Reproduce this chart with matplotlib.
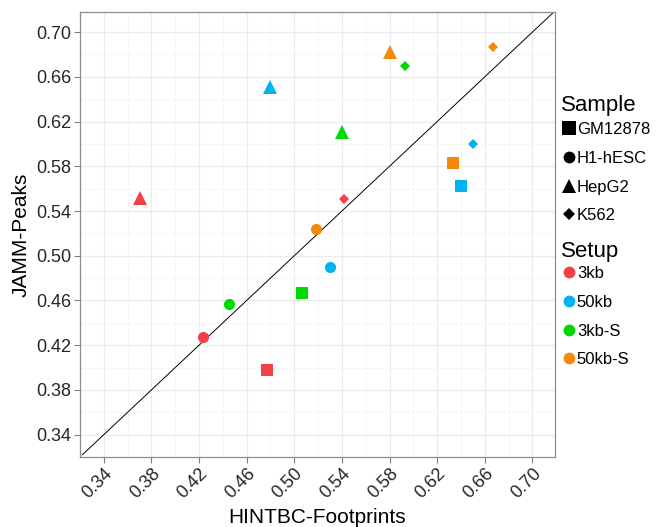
import numpy as np
import matplotlib
matplotlib.use("Agg")
import matplotlib.pyplot as plt
from matplotlib.lines import Line2D

plt.rcParams['font.family'] = ['Liberation Sans', 'DejaVu Sans']

samples = ["GM12878", "H1-hESC", "HepG2", "K562"]
setups = ["3kb", "50kb", "3kb-S", "50kb-S"]

# rows: samples, columns: setups
hint_x = np.array([
    [0.477, 0.640, 0.5065, 0.633],
    [0.423, 0.530, 0.445, 0.5185],
    [0.370, 0.480, 0.540, 0.580],
    [0.542, 0.6505, 0.593, 0.667],
])
jamm_y = np.array([
    [0.398, 0.562, 0.467, 0.583],
    [0.427, 0.490, 0.457, 0.524],
    [0.552, 0.651, 0.611, 0.682],
    [0.551, 0.600, 0.670, 0.687],
])
ticks = [0.34, 0.38, 0.42, 0.46, 0.50, 0.54, 0.58, 0.62, 0.66, 0.70]

colors = ["#F2404A", "#00B2EE", "#00D900", "#F5890A"]
markers = ["s", "o", "^", "D"]
msize = [8, 8, 10.5, 5.2]
leg_msize = [9.5, 8.5, 10, 5.8]

fig = plt.figure(figsize=(6.61, 5.27), dpi=100)
ax = fig.add_axes([80/661, 70/527, 475/661, 445/527])

lo, hi = 0.322, 0.719
ax.plot([lo, hi], [lo, hi], color="black", lw=0.7, zorder=2)

for i, s in enumerate(samples):
    for j, st in enumerate(setups):
        ax.plot(hint_x[i, j], jamm_y[i, j], linestyle="none", marker=markers[i],
                color=colors[j], markersize=msize[i], markeredgewidth=0, zorder=3)

ax.set_xlim(lo, hi)
ax.set_ylim(0.3235, 0.718)
ax.set_xticks(ticks)
ax.set_yticks(ticks)
ax.set_xticklabels(["%.2f" % t for t in ticks], rotation=45, ha="right",
                   rotation_mode="anchor")
ax.set_yticklabels(["%.2f" % t for t in ticks])
minor = [t + 0.02 for t in ticks[:-1]] + [0.32]
ax.set_xticks(minor, minor=True)
ax.set_yticks(minor, minor=True)
ax.tick_params(which="minor", length=0)
ax.tick_params(which="major", length=4, color="#7f7f7f", labelsize=13,
               labelcolor="#262626", width=0.8, pad=2)
ax.grid(which="major", color="#ebebeb", lw=0.9)
ax.grid(which="minor", color="#f5f5f5", lw=0.6)
ax.set_axisbelow(True)
for sp in ax.spines.values():
    sp.set_color("#8c8c8c")
    sp.set_linewidth(0.9)

ax.set_xlabel("HINTBC-Footprints", fontsize=15, labelpad=4)
ax.set_ylabel("JAMM-Peaks", fontsize=15, labelpad=4)

# legend titles placed by hand, entries via legends without titles
fig.text(561/661, 1 - 105/527, "Sample", fontsize=16, va="center", ha="left")
fig.text(561/661, 1 - 251/527, "Setup", fontsize=16, va="center", ha="left")

h1 = [Line2D([], [], linestyle="none", marker=markers[i], color="black",
             markersize=leg_msize[i], markeredgewidth=0) for i in range(4)]
leg1 = fig.legend(h1, samples, loc="upper left",
                  bbox_to_anchor=(556/661, 1 - 114/527), frameon=False,
                  fontsize=12, handlelength=0.6,
                  handletextpad=0.15, labelspacing=0.82, borderpad=0)
h2 = [Line2D([], [], linestyle="none", marker="o", color=c,
             markersize=8.5, markeredgewidth=0) for c in colors]
leg2 = fig.legend(h2, setups, loc="upper left",
                  bbox_to_anchor=(556/661, 1 - 258/527), frameon=False,
                  fontsize=12, handlelength=0.6,
                  handletextpad=0.15, labelspacing=0.82, borderpad=0)

fig.savefig("out.png", dpi=100)
